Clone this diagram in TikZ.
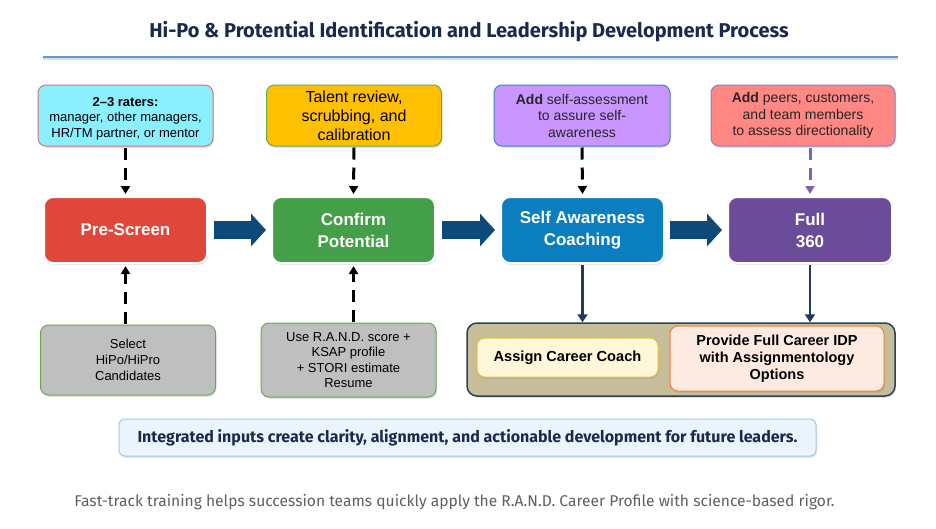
\documentclass[tikz,border=0pt]{standalone}
\usepackage{fontspec}
\setmainfont{Liberation Sans}
\newfontfamily\titlefont{Fira Sans}
\usetikzlibrary{arrows.meta,shadows,calc}
\definecolor{navy}{HTML}{1B2A4A}
\definecolor{rulebl}{HTML}{5B9BD5}
\definecolor{cyanf}{HTML}{8AEFFE}
\definecolor{cyand}{HTML}{E07272}
\definecolor{yelf}{HTML}{FFC000}
\definecolor{greend}{HTML}{6AA84F}
\definecolor{lilf}{HTML}{C995FF}
\definecolor{lild}{HTML}{3D85C6}
\definecolor{salf}{HTML}{FF8884}
\definecolor{sald}{HTML}{8E7CC3}
\definecolor{redm}{HTML}{E0473A}
\definecolor{greenm}{HTML}{44A048}
\definecolor{bluem}{HTML}{0B7EC0}
\definecolor{purm}{HTML}{6B4C9A}
\definecolor{barrow}{HTML}{0D4A7A}
\definecolor{grayf}{HTML}{BFBFBF}
\definecolor{olivef}{HTML}{C5BE98}
\definecolor{olived}{HTML}{2E3F5E}
\definecolor{coachf}{HTML}{FEF7DA}
\definecolor{coachd}{HTML}{F1C232}
\definecolor{idpf}{HTML}{FDEBE1}
\definecolor{idpd}{HTML}{E8824A}
\definecolor{bannerf}{HTML}{EAF4FC}
\definecolor{bannerd}{HTML}{A4C8EA}
\definecolor{darrow}{HTML}{1F3864}
\definecolor{purarrow}{HTML}{8060B0}
\definecolor{footg}{HTML}{5F5F5F}
\tikzset{
  shad/.style={drop shadow={opacity=0.22,shadow xshift=1pt,shadow yshift=-1.8pt}},
  inbox/.style={rounded corners=8pt, draw, line width=1pt, align=center, inner sep=2pt, shad},
  topbox/.style={inbox, minimum width=175pt, minimum height=61pt},
  mainbox/.style={rounded corners=9pt, draw=white, line width=2pt, text=white,
    font=\bfseries\fontsize{17}{22}\selectfont, minimum width=163pt, minimum height=66pt,
    align=center, shad},
  graybox/.style={inbox, fill=grayf, draw=greend, minimum width=175pt},
  dasharrow/.style={line width=3pt, dash pattern=on 12pt off 8pt, -{Triangle[length=8pt,width=9pt]}},
  downarrow/.style={line width=2.5pt, darrow, -{Triangle[length=8pt,width=10pt]}},
  blockarrow/.style={line width=18pt, barrow, -{Triangle[length=15pt,width=32pt]}},
}
\begin{document}
\begin{tikzpicture}[x=1pt,y=-1pt]
\useasboundingbox (0,0) rectangle (936,528);
% title
\node[font=\titlefont\bfseries\fontsize{20}{23}\selectfont, text=navy] (title) at (469,32)
  {Hi-Po \& Protential Identification and Leadership Development Process};
\coordinate (rl) at (43,57);
\coordinate (rr) at (898,57);
\draw[line width=2pt, black!13] ([yshift=-2pt]rl) -- ([yshift=-2pt]rr);
\draw[line width=1.5pt, rulebl] (rl) -- (rr);
% top boxes
\node[topbox, fill=cyanf, draw=cyand, font=\fontsize{13}{15.5}\selectfont] (rat) at (125.5,115.5)
  {\rule{0pt}{15pt}\textbf{2–3 raters:}\\manager, other managers,\\HR/TM partner, or mentor};
\node[topbox, fill=yelf, draw=greend, font=\fontsize{16}{19}\selectfont] (tal) at (354,115.5)
  {Talent review,\\scrubbing, and\\calibration};
\node[topbox, fill=lilf, draw=lild, minimum width=176pt, text=black!85, font=\fontsize{14}{16.5}\selectfont] (sel) at (582,115.5)
  {\textbf{Add} self-assessment\\to assure self-\\awareness};
\node[topbox, fill=salf, draw=sald, minimum width=184pt, text=black!85, font=\fontsize{14}{16.5}\selectfont] (pee) at (803,115.5)
  {\textbf{Add} peers, customers,\\and team members\\to assess directionality};
% main boxes
\node[mainbox, fill=redm] (pre) at (125.5,230) {Pre-Screen};
\node[mainbox, fill=greenm] (con) at (353.5,230) {Confirm\\Potential};
\node[mainbox, fill=bluem] (saw) at (582.5,230) {Self Awareness\\Coaching};
\node[mainbox, fill=purm, minimum width=164pt] (ful) at (810,230) {Full\\360};
% block arrows
\draw[blockarrow] ([xshift=6pt]pre.east) -- ([xshift=-5pt]con.west);
\draw[blockarrow] ([xshift=6pt]con.east) -- ([xshift=-5pt]saw.west);
\draw[blockarrow] ([xshift=5pt]saw.east) -- ([xshift=-5pt]ful.west);
% top dashed arrows
\draw[dasharrow] ([yshift=-1pt]rat.south) -- ([yshift=2pt]pre.north);
\draw[dasharrow] ([yshift=-1pt]tal.south) -- ([yshift=2pt]con.north);
\draw[dasharrow] ([yshift=-1pt]sel.south) -- ([yshift=2pt]saw.north);
\draw[dasharrow, purarrow] ([yshift=-1pt]pee.south -| ful.north) -- ([yshift=2pt]ful.north);
% bottom gray boxes
\node[graybox, minimum height=70pt, font=\fontsize{13}{16}\selectfont] (can) at (128,360)
  {Select\\HiPo/HiPro\\Candidates};
\node[graybox, minimum height=74pt, font=\fontsize{13}{15.5}\selectfont] (use) at (348.5,360)
  {Use R.A.N.D. score +\\KSAP profile\\+ STORI estimate\\Resume};
\draw[dasharrow] ([yshift=1pt]can.north -| pre.south) -- ([yshift=-2pt]pre.south);
\draw[dasharrow] ([yshift=1pt]use.north -| con.south) -- ([yshift=-2pt]con.south);
% olive container
\node[inbox, rounded corners=10pt, fill=olivef, draw=olived, line width=1.5pt, minimum width=428pt, minimum height=73pt] (oli) at (681,359.5) {};
\node[inbox, fill=coachf, draw=coachd, minimum width=181pt, minimum height=39pt, font=\bfseries\fontsize{14.6}{17}\selectfont] (coa) at (567.5,357.5)
  {Assign Career Coach};
\node[inbox, fill=idpf, draw=idpd, minimum width=214pt, minimum height=65pt, font=\bfseries\fontsize{14.5}{17}\selectfont] (idp) at (777,358.5)
  {Provide Full Career IDP\\with Assignmentology\\Options};
\draw[downarrow] ([yshift=-1pt]saw.south) -- (saw.south |- oli.north);
\draw[downarrow] ([yshift=-1pt]ful.south) -- (ful.south |- oli.north);
% banner
\node[inbox, rounded corners=6pt, fill=bannerf, draw=bannerd, minimum width=697pt, minimum height=37pt, text=navy,
  font=\titlefont\bfseries\fontsize{16}{19}\selectfont] (ban) at (467.5,437.5)
  {Integrated inputs create clarity, alignment, and actionable development for future leaders.};
% footer
\node[text=footg, font=\titlefont\fontsize{15.6}{18}\selectfont] (foot) at (454.5,502)
  {Fast-track training helps succession teams quickly apply the R.A.N.D. Career Profile with science-based rigor.};
\end{tikzpicture}
\end{document}
